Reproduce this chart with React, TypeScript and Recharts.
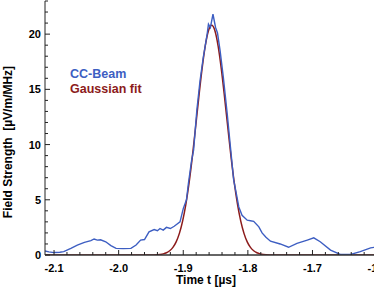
import React from "react";
import { LineChart, Line, XAxis, YAxis } from "recharts";

// CC-Beam measurement (time in µs, field strength in µV/m/MHz)
const beamTime = [
  -2.114, -2.108, -2.1, -2.091, -2.085, -2.074, -2.064, -2.053, -2.043, -2.038,
  -2.033, -2.028, -2.02, -2.012, -2.004, -1.993, -1.981, -1.973, -1.966, -1.96,
  -1.953, -1.945, -1.94, -1.936, -1.931, -1.926, -1.92, -1.914, -1.905, -1.9,
  -1.895, -1.892, -1.887, -1.884, -1.879, -1.874, -1.869, -1.863, -1.861, -1.858,
  -1.854, -1.85, -1.847, -1.843, -1.838, -1.832, -1.827, -1.822, -1.818, -1.814,
  -1.809, -1.801, -1.796, -1.791, -1.783, -1.778, -1.772, -1.765, -1.75, -1.737,
  -1.724, -1.708, -1.698, -1.688, -1.672, -1.657, -1.641, -1.626, -1.61, -1.6, -1.59,
];
const beamField = [
  0.36, 0.28, 0.22, 0.25, 0.3, 0.6, 0.9, 1.14, 1.3, 1.45,
  1.35, 1.38, 1.2, 0.85, 0.6, 0.58, 0.6, 0.9, 1.35, 1.4,
  2.1, 2.3, 2.2, 2.4, 2.25, 2.5, 2.4, 2.6, 3.0, 4.2,
  5.0, 6.5, 8.6, 9.5, 13.1, 15.8, 17.9, 20.0, 20.9, 20.6,
  21.8, 20.6, 20.1, 18.5, 16.1, 12.8, 9.8, 6.8, 5.6, 4.35,
  3.6, 3.15, 3.1, 3.05, 2.55, 2.0, 1.6, 1.25, 1.0, 0.7,
  1.05, 1.35, 1.55, 1.2, 0.45, 0.05, 0.05, 0.3, 0.65, 0.72, 0.75,
];

// Gaussian fit
const fitTime = [
  -2.114, -1.956, -1.946, -1.936, -1.931, -1.926, -1.921, -1.916, -1.911, -1.906,
  -1.901, -1.896, -1.891, -1.886, -1.881, -1.876, -1.871, -1.866, -1.861, -1.856,
  -1.851, -1.846, -1.841, -1.836, -1.831, -1.826, -1.821, -1.816, -1.811, -1.806,
  -1.801, -1.796, -1.791, -1.786, -1.781, -1.776, -1.766, -1.756, -1.58,
];
const fitField = [
  0, 0, 0.01, 0.049, 0.102, 0.203, 0.383, 0.69, 1.19, 1.96,
  3.07, 4.59, 6.53, 8.87, 11.52, 14.25, 16.81, 18.92, 20.31, 20.8,
  20.31, 18.92, 16.81, 14.25, 11.52, 8.87, 6.53, 4.59, 3.07, 1.96,
  1.19, 0.69, 0.383, 0.203, 0.102, 0.049, 0.01, 0, 0,
];

const xTicks = [
  -2.1, -2.08, -2.06, -2.04, -2.02, -2.0, -1.98, -1.96, -1.94, -1.92,
  -1.9, -1.88, -1.86, -1.84, -1.82, -1.8, -1.78, -1.76, -1.74, -1.72,
  -1.7, -1.68, -1.66, -1.64, -1.62, -1.6,
];
const yTicks = [
  0, 1, 2, 3, 4, 5, 6, 7, 8, 9, 10, 11, 12, 13, 14, 15, 16, 17, 18, 19, 20, 21, 22, 23,
];

const beamData = beamTime.map((t, i) => ({ t, v: beamField[i] }));
const fitData = fitTime.map((t, i) => ({ t, v: fitField[i] }));

const FONT = "'Liberation Sans', Arial, sans-serif";
const BLUE = "#3d5ec2";
const RED = "#8c1b1b";

const isMajor = (v: number, step: number) =>
  Math.abs(v / step - Math.round(v / step)) < 1e-6;

function BottomTick(props: any) {
  const { x, y, payload } = props;
  const major = isMajor(payload.value, 0.1);
  return (
    <g>
      <line x1={x} x2={x} y1={y} y2={y - (major ? 5 : 3)} stroke="#222" />
      {major && (
        <text
          x={x}
          y={y + 17}
          textAnchor="middle"
          fontSize={11}
          fontWeight="bold"
          fontFamily={FONT}
          fill="#000"
        >
          {payload.value.toFixed(1)}
        </text>
      )}
    </g>
  );
}

function TopTick(props: any) {
  const { x, y, payload } = props;
  const major = isMajor(payload.value, 0.1);
  return <line x1={x} x2={x} y1={y} y2={y + (major ? 5 : 3)} stroke="#222" />;
}

function LeftTick(props: any) {
  const { x, y, payload } = props;
  const major = payload.value % 5 === 0;
  return (
    <g>
      <line x1={x} x2={x + (major ? 5 : 3)} y1={y} y2={y} stroke="#222" />
      {major && (
        <text
          x={x - 4}
          y={y + 4}
          textAnchor="end"
          fontSize={11}
          fontWeight="bold"
          fontFamily={FONT}
          fill="#000"
        >
          {payload.value}
        </text>
      )}
    </g>
  );
}

export default function App() {
  return (
    <div
      style={{
        position: "absolute",
        left: 0,
        top: 0,
        width: 374,
        height: 288,
        overflow: "hidden",
        background: "#fff",
      }}
    >
      <LineChart
        width={390}
        height={288}
        margin={{ top: 1, right: 0, left: 0, bottom: 0 }}
      >
        <XAxis
          dataKey="t"
          type="number"
          domain={[-2.114, -1.58]}
          ticks={xTicks}
          interval={0}
          tickSize={0}
          tickMargin={0}
          tickLine={false}
          tick={<BottomTick />}
          height={33}
          stroke="#333"
          strokeWidth={1.5}
          allowDataOverflow
        />
        <XAxis
          xAxisId="top"
          orientation="top"
          dataKey="t"
          type="number"
          domain={[-2.114, -1.58]}
          ticks={xTicks}
          interval={0}
          tickSize={0}
          tickMargin={0}
          tickLine={false}
          tick={<TopTick />}
          height={0}
          stroke="#333"
          allowDataOverflow
        />
        <YAxis
          type="number"
          domain={[0, 23]}
          ticks={yTicks}
          interval={0}
          tickSize={0}
          tickMargin={0}
          tickLine={false}
          tick={<LeftTick />}
          width={45}
          stroke="#222"
          allowDataOverflow
        />
        <Line
          data={fitData}
          dataKey="v"
          type="monotone"
          stroke={RED}
          strokeWidth={1.5}
          dot={false}
          isAnimationActive={false}
        />
        <Line
          data={beamData}
          dataKey="v"
          type="linear"
          stroke={BLUE}
          strokeWidth={1.4}
          dot={false}
          isAnimationActive={false}
        />
      </LineChart>
      <svg
        width={374}
        height={288}
        style={{ position: "absolute", left: 0, top: 0, pointerEvents: "none" }}
        fontFamily={FONT}
        fontWeight="bold"
      >
        <text
          transform="translate(12,142) rotate(-90)"
          textAnchor="middle"
          fontSize={12}
          fill="#000"
          xmlSpace="preserve"
        >
          {"Field Strength  [\u00b5V/m/MHz]"}
        </text>
        <text x={206} y={284} textAnchor="middle" fontSize={12} fill="#000">
          {"Time t [\u00b5s]"}
        </text>
        <text x={70} y={77.5} fontSize={12.5} fill={BLUE}>
          CC-Beam
        </text>
        <text x={70} y={93} fontSize={12.5} fill={RED}>
          Gaussian fit
        </text>
      </svg>
    </div>
  );
}
